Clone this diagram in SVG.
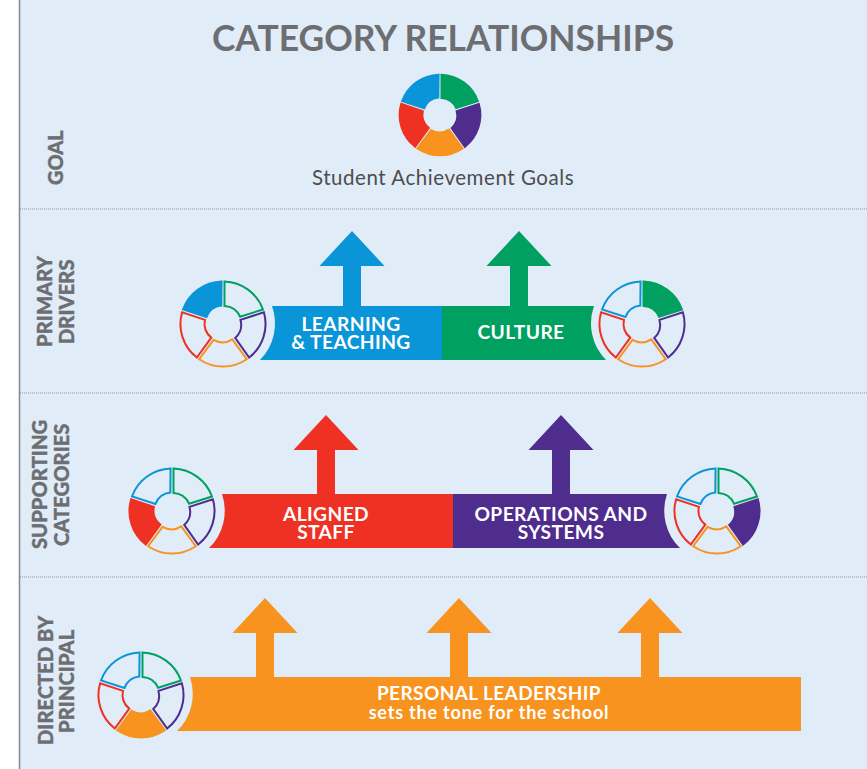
<svg xmlns="http://www.w3.org/2000/svg" width="867" height="769" viewBox="0 0 867 769">
<style>
.t{font-family:Lato,"Open Sans","Liberation Sans",sans-serif}
.g{font-weight:900;fill:#6d6e71;stroke:#6d6e71;stroke-width:.35;letter-spacing:0}
.l{font-weight:700;fill:#fff;font-size:19.2px;text-anchor:middle;letter-spacing:.4px}
.d{stroke:#8c9196;stroke-width:1;stroke-dasharray:1 1;fill:none}
.s{fill:none;stroke-width:2;stroke-linejoin:miter}
.gr{stroke:#00a160}.pu{stroke:#4f2d8f}.or{stroke:#f7931e}.re{stroke:#ef3124}.bl{stroke:#0a95d8}
.gr.f{fill:#00a160}.pu.f{fill:#4f2d8f}.or.f{fill:#f7931e}.re.f{fill:#ef3124}.bl.f{fill:#0a95d8}
.F-gr{fill:#00a160}.F-pu{fill:#4f2d8f}.F-or{fill:#f7931e}.F-re{fill:#ef3124}.F-bl{fill:#0a95d8}
</style>
<defs>
<path id="seg" d="M1.5,-42.5 A42.5,42.5 0 0 1 40,-14.5 L17,-7.3 A18,18 0 0 0 1.5,-17.9 Z"/>
<path id="arrow" d="M0,0 L32.5,35 H9 V75 H-9 V35 H-32.5 Z"/>
<path id="arrowS" d="M0,0 L32.5,35 H9 V79 H-9 V35 H-32.5 Z"/>
</defs>
<rect width="867" height="769" fill="#fff"/>
<rect x="20" width="847" height="769" fill="#e0ecf8"/>
<path d="M19.5,0V769" stroke="#84888c" stroke-width="1.5" fill="none"/>
<path class="d" d="M20,209H867M20,393H867M20,577H867"/>
<text class="t" x="443" y="51" font-size="35.4" font-weight="700" fill="#6d6e71" text-anchor="middle">CATEGORY RELATIONSHIPS</text>

<g id="goal">
<text class="t g" font-size="20" transform="translate(63,185) rotate(-90)">GOAL</text>
<g id="goal-wheel" transform="translate(440,115) scale(.95)">
<use href="#seg" class="s f gr"/><use href="#seg" transform="rotate(72)" class="s f pu"/><use href="#seg" transform="rotate(144)" class="s f or"/><use href="#seg" transform="rotate(216)" class="s f re"/><use href="#seg" transform="rotate(288)" class="s f bl"/>
</g>
<text class="t" x="443" y="185" font-size="20.5" fill="#4d4d4f" text-anchor="middle" letter-spacing=".55">Student Achievement Goals</text>
</g>

<text class="t g" font-size="20.2" transform="translate(52,347) rotate(-90)">PRIMARY</text>
<text class="t g" font-size="20.2" transform="translate(74,344) rotate(-90)">DRIVERS</text>
<text class="t g" font-size="20.2" transform="translate(47,549) rotate(-90)">SUPPORTING</text>
<text class="t g" font-size="20.2" transform="translate(69,546) rotate(-90)">CATEGORIES</text>
<text class="t g" font-size="20.2" transform="translate(53,745) rotate(-90)">DIRECTED BY</text>
<text class="t g" font-size="20.2" transform="translate(74,733) rotate(-90)">PRINCIPAL</text>

<g id="connectors">
<use href="#arrow" x="352" y="231" class="F-bl"/>
<use href="#arrow" x="519" y="231" class="F-gr"/>
<use href="#arrowS" x="326" y="415" class="F-re"/>
<use href="#arrowS" x="561" y="415" class="F-pu"/>
<use href="#arrowS" x="265" y="598" class="F-or"/>
<use href="#arrowS" x="459" y="598" class="F-or"/>
<use href="#arrowS" x="650" y="598" class="F-or"/>
</g>

<g id="learning">
<path class="F-bl" d="M272,306H442V360H260A52,52 0 0 0 272,306Z"/>
<text class="t l" x="351" y="331">LEARNING</text>
<text class="t l" x="351" y="349">&amp; TEACHING</text>
<g transform="translate(223,324)"><use href="#seg" class="s gr"/><use href="#seg" transform="rotate(72)" class="s pu"/><use href="#seg" transform="rotate(144)" class="s or"/><use href="#seg" transform="rotate(216)" class="s re"/><use href="#seg" transform="rotate(288)" class="s f bl"/></g>
</g>

<g id="culture">
<path class="F-gr" d="M442,306H594A52,52 0 0 0 606,360H442Z"/>
<text class="t l" x="521" y="339">CULTURE</text>
<g transform="translate(642,324)"><use href="#seg" class="s f gr"/><use href="#seg" transform="rotate(72)" class="s pu"/><use href="#seg" transform="rotate(144)" class="s or"/><use href="#seg" transform="rotate(216)" class="s re"/><use href="#seg" transform="rotate(288)" class="s bl"/></g>
</g>

<g id="aligned-staff">
<path class="F-re" d="M222,494H453V548H209A52,52 0 0 0 222,494Z"/>
<text class="t l" x="326" y="521">ALIGNED</text>
<text class="t l" x="326" y="539">STAFF</text>
<g transform="translate(172,511)"><use href="#seg" class="s gr"/><use href="#seg" transform="rotate(72)" class="s pu"/><use href="#seg" transform="rotate(144)" class="s or"/><use href="#seg" transform="rotate(216)" class="s f re"/><use href="#seg" transform="rotate(288)" class="s bl"/></g>
</g>

<g id="operations">
<path class="F-pu" d="M453,494H667A52,52 0 0 0 680,548H453Z"/>
<text class="t l" x="561" y="521">OPERATIONS AND</text>
<text class="t l" x="561" y="539">SYSTEMS</text>
<g transform="translate(717,511)"><use href="#seg" class="s gr"/><use href="#seg" transform="rotate(72)" class="s f pu"/><use href="#seg" transform="rotate(144)" class="s or"/><use href="#seg" transform="rotate(216)" class="s re"/><use href="#seg" transform="rotate(288)" class="s bl"/></g>
</g>

<g id="personal-leadership">
<path class="F-or" d="M190,677H801V731H177A52,52 0 0 0 190,677Z"/>
<text class="t l" x="489" y="700" style="font-size:19px">PERSONAL LEADERSHIP</text>
<text class="t l" x="489" y="719" style="font-size:18px;letter-spacing:.8px">sets the tone for the school</text>
<g transform="translate(141,695)"><use href="#seg" class="s gr"/><use href="#seg" transform="rotate(72)" class="s pu"/><use href="#seg" transform="rotate(144)" class="s f or"/><use href="#seg" transform="rotate(216)" class="s re"/><use href="#seg" transform="rotate(288)" class="s bl"/></g>
</g>
</svg>
